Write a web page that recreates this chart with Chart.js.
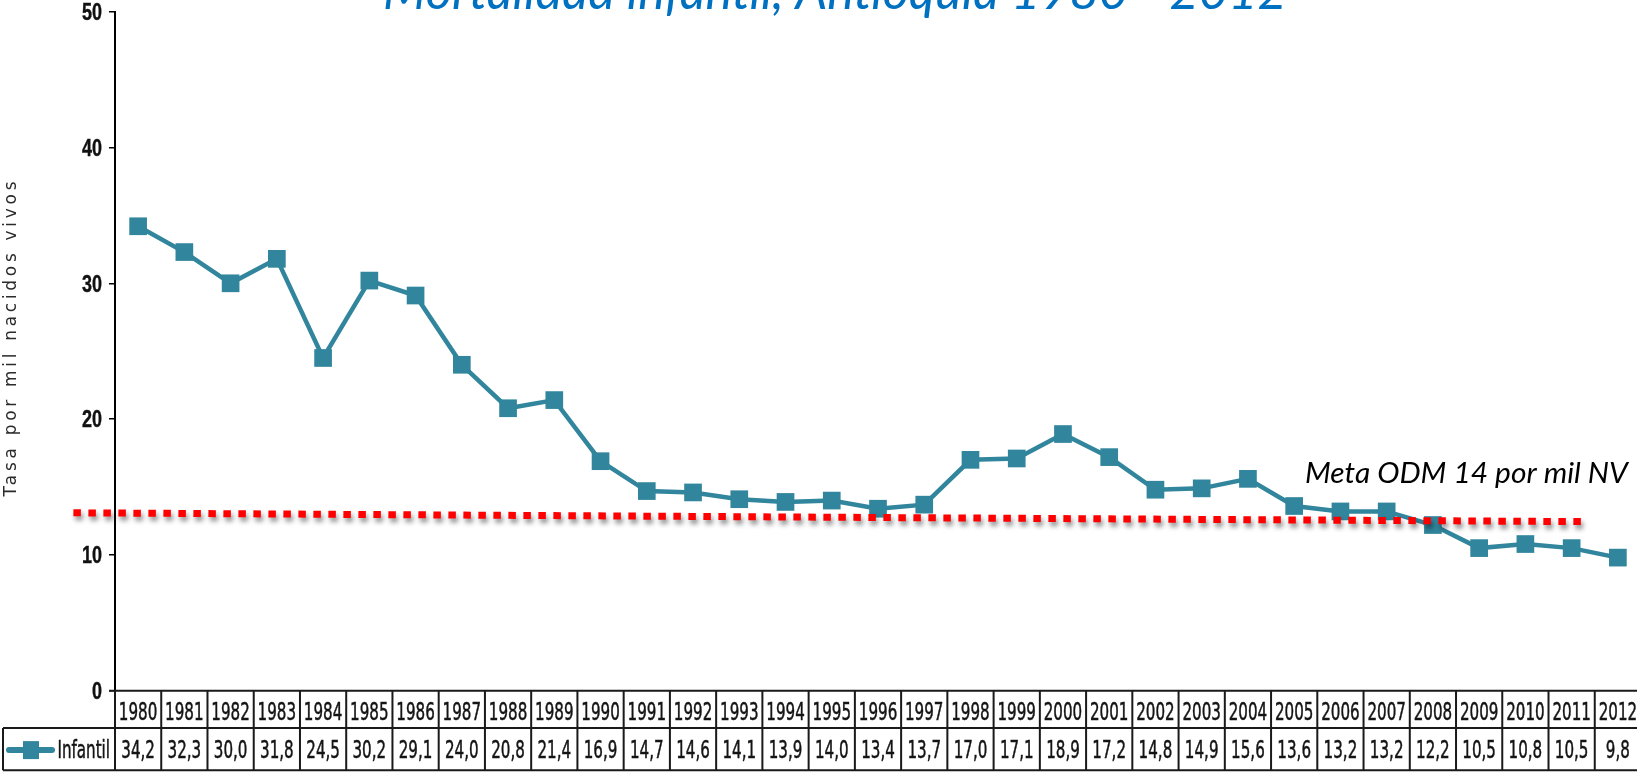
<!DOCTYPE html>
<html>
<head>
<meta charset="utf-8">
<script src="https://cdn.jsdelivr.net/npm/chart.js@4.4.1/dist/chart.umd.min.js"></script>
<style>
  html, body { margin: 0; padding: 0; background: #ffffff; overflow: hidden; width: 1637px; height: 772px; }
  #wrap { width: 1641px; height: 772px; }
  canvas { display: block; }
</style>
</head>
<body>
<div id="wrap"><canvas id="c" width="1641" height="772"></canvas></div>
<script>
// ---------- data ----------
const categories = ['1980','1981','1982','1983','1984','1985','1986','1987','1988','1989','1990',
  '1991','1992','1993','1994','1995','1996','1997','1998','1999','2000','2001','2002','2003',
  '2004','2005','2006','2007','2008','2009','2010','2011','2012'];
const infantil = [34.2,32.3,30.0,31.8,24.5,30.2,29.1,24.0,20.8,21.4,16.9,14.7,14.6,14.1,13.9,14.0,
  13.4,13.7,17.0,17.1,18.9,17.2,14.8,14.9,15.6,13.6,13.2,13.2,12.2,10.5,10.8,10.5,9.8];
const yTicks = [0, 10, 20, 30, 40, 50];
// meta (target) dotted line ends, in [category index, value]
const metaStart = [-1.4, 13.1];
const metaEnd = [31.25, 12.45];
const titleText = 'Mortalidad infantil, Antioquia 1980 - 2012';
const yTitleText = 'Tasa por mil nacidos vivos';
const seriesLabel = 'Infantil';
const metaLabel = 'Meta ODM 14 por mil NV';

const tableValues = infantil.map(v => v.toFixed(1).replace('.', ','));

const TEAL = '#31859C';

function fitFont(ctx, text, style, family, targetW) {
  ctx.font = style + ' 100px ' + family;
  const w = ctx.measureText(text).width;
  return 100 * targetW / w;
}

function drawScaled(ctx, text, x, baseline, sx, align, stroke) {
  ctx.save();
  ctx.translate(x, baseline);
  ctx.scale(sx, 1);
  ctx.textAlign = align;
  ctx.textBaseline = 'alphabetic';
  ctx.fillText(text, 0, 0);
  if (stroke) {
    ctx.lineWidth = stroke;
    ctx.strokeStyle = ctx.fillStyle;
    ctx.strokeText(text, 0, 0);
  }
  ctx.restore();
}

const decor = {
  id: 'decor',
  afterDatasetsDraw(chart) {
    const ctx = chart.ctx;
    const xs = chart.scales.x, ys = chart.scales.y;
    // red dotted target line with soft shadow
    ctx.save();
    ctx.strokeStyle = '#FF0000';
    ctx.lineWidth = 7;
    ctx.lineCap = 'butt';
    ctx.setLineDash([7.5, 7.5]);
    ctx.shadowColor = 'rgba(0,0,0,0.45)';
    ctx.shadowBlur = 5;
    ctx.shadowOffsetX = 2;
    ctx.shadowOffsetY = 4;
    ctx.beginPath();
    ctx.moveTo(xs.getPixelForValue(metaStart[0]), ys.getPixelForValue(metaStart[1]));
    ctx.lineTo(xs.getPixelForValue(metaEnd[0]), ys.getPixelForValue(metaEnd[1]));
    ctx.stroke();
    ctx.restore();
  },
  afterDraw(chart) {
    const ctx = chart.ctx;
    const xs = chart.scales.x, ys = chart.scales.y;
    const area = chart.chartArea;

    // ---- y tick labels (narrow bold) ----
    ctx.save();
    const tfam = '"Liberation Sans Narrow", "Liberation Sans", Arial, sans-serif';
    ctx.font = 'bold 23px ' + tfam;
    const tsx = 10 / ctx.measureText('0').width;
    ctx.fillStyle = '#111111';
    for (const v of yTicks) {
      drawScaled(ctx, String(v), area.left - 13, ys.getPixelForValue(v) + 8.3, Math.min(1, tsx), 'right', 0.4);
    }
    ctx.restore();

    // ---- title (partly above the top edge) ----
    ctx.save();
    const tSize = fitFont(ctx, titleText, 'italic', 'Lato, "Open Sans", sans-serif', 904);
    ctx.font = 'italic ' + tSize + 'px Lato, "Open Sans", sans-serif';
    ctx.fillStyle = '#0070C0';
    ctx.textAlign = 'left';
    ctx.textBaseline = 'alphabetic';
    ctx.fillText(titleText, 383, 9);
    ctx.restore();

    // ---- y axis title ----
    ctx.save();
    ctx.translate(12, 339);
    ctx.rotate(-Math.PI / 2);
    ctx.font = '17px "DejaVu Sans", Verdana, sans-serif';
    ctx.fillStyle = '#2b2b2b';
    ctx.letterSpacing = '0px';
    const w0 = ctx.measureText(yTitleText).width;
    const ls = Math.max(0, (315 - w0) / (yTitleText.length - 1));
    ctx.letterSpacing = ls + 'px';
    ctx.textAlign = 'left';
    ctx.textBaseline = 'middle';
    ctx.fillText(yTitleText, -157.5, 0);
    ctx.restore();

    // ---- meta label ----
    ctx.save();
    const mSize = fitFont(ctx, metaLabel, 'italic', 'Lato, "Open Sans", sans-serif', 323);
    ctx.font = 'italic ' + mSize + 'px Lato, "Open Sans", sans-serif';
    ctx.fillStyle = '#000000';
    ctx.textAlign = 'left';
    ctx.textBaseline = 'alphabetic';
    ctx.fillText(metaLabel, 1305, 483);
    ctx.restore();

    // ---- data table ----
    const y0 = ys.getPixelForValue(0);
    const yMid = y0 + 37.3;
    const yBot = y0 + 79.5;
    const half = (xs.getPixelForValue(1) - xs.getPixelForValue(0)) / 2;
    const leftX = 3;
    ctx.save();
    ctx.strokeStyle = '#1a1a1a';
    ctx.lineWidth = 2;
    ctx.beginPath();
    ctx.moveTo(area.left - 6, y0); ctx.lineTo(chart.width, y0);
    ctx.moveTo(leftX, yMid); ctx.lineTo(chart.width, yMid);
    ctx.moveTo(leftX, yBot); ctx.lineTo(chart.width, yBot);
    ctx.moveTo(leftX, yMid); ctx.lineTo(leftX, yBot);
    ctx.moveTo(area.left, y0); ctx.lineTo(area.left, yBot);
    for (let i = 0; i < categories.length; i++) {
      const xr = xs.getPixelForValue(i) + half;
      ctx.moveTo(xr, y0); ctx.lineTo(xr, yBot);
    }
    ctx.stroke();

    // text
    const fam = '"DejaVu Sans Condensed", "DejaVu Sans", Verdana, sans-serif';
    ctx.font = '25px ' + fam;
    const sx = 38.5 / ctx.measureText('1980').width;
    ctx.fillStyle = '#141414';
    for (let i = 0; i < categories.length; i++) {
      const cx = xs.getPixelForValue(i);
      drawScaled(ctx, categories[i], cx, y0 + 29.5, sx, 'center', 0.5);
      drawScaled(ctx, tableValues[i], cx, y0 + 67.5, sx, 'center', 0.5);
    }
    drawScaled(ctx, seriesLabel, area.left - 5, y0 + 67.5, sx, 'right', 0.5);

    // legend symbol
    const ly = (yMid + yBot) / 2 + 1;
    ctx.strokeStyle = TEAL;
    ctx.lineWidth = 6;
    ctx.lineCap = 'round';
    ctx.beginPath();
    ctx.moveTo(9, ly); ctx.lineTo(52, ly);
    ctx.stroke();
    ctx.fillStyle = TEAL;
    ctx.fillRect(31 - 8, ly - 9, 16, 18);
    ctx.restore();
  }
};

new Chart(document.getElementById('c'), {
  type: 'line',
  data: {
    labels: categories,
    datasets: [{
      label: seriesLabel,
      data: infantil,
      borderColor: TEAL,
      backgroundColor: TEAL,
      borderWidth: 4.5,
      pointStyle: 'rect',
      pointRadius: 12.5,
      pointHoverRadius: 12.5,
      pointBackgroundColor: TEAL,
      pointBorderColor: TEAL,
      pointBorderWidth: 0,
      tension: 0,
      fill: false,
      clip: false
    }]
  },
  options: {
    responsive: false,
    animation: false,
    devicePixelRatio: 1,
    layout: { autoPadding: false, padding: { top: 11.7, bottom: 81.3, left: 0, right: 0 } },
    plugins: {
      legend: { display: false },
      title: { display: false },
      tooltip: { enabled: false }
    },
    scales: {
      x: {
        type: 'category',
        offset: true,
        display: false
      },
      y: {
        min: 0,
        max: 50,
        afterBuildTicks: s => { s.ticks = yTicks.map(v => ({ value: v })); },
        afterFit: s => { s.width = 115; },
        border: { display: true, color: '#000000', width: 2 },
        grid: { drawOnChartArea: false, drawTicks: true, tickLength: 6, color: '#000000', lineWidth: 1.5 },
        ticks: { display: false }
      }
    }
  },
  plugins: [decor]
});
</script>
</body>
</html>
